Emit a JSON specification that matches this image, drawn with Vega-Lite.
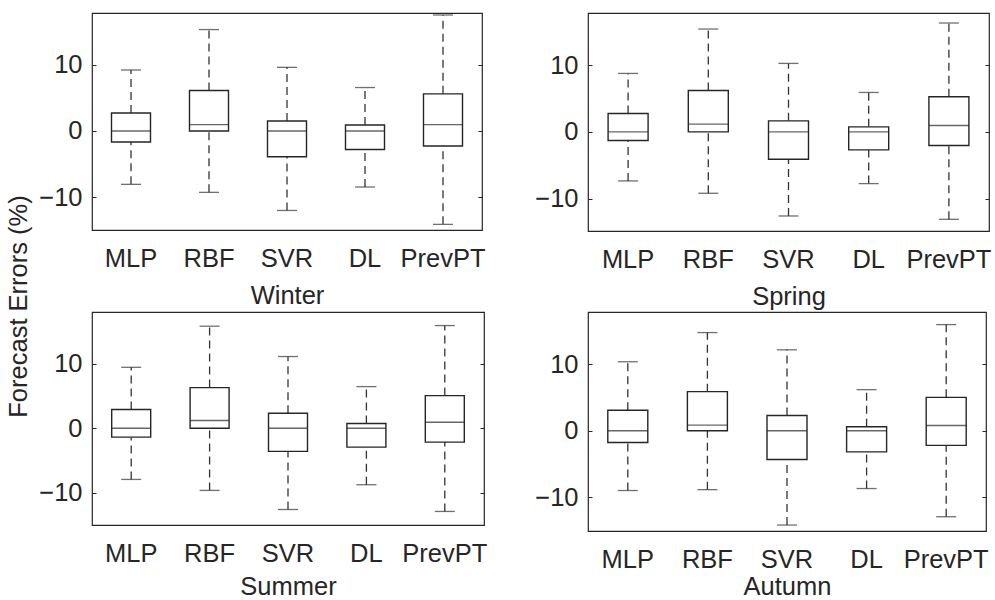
{
  "$schema": "https://vega.github.io/schema/vega-lite/v6.json",
  "background": "white",
  "padding": {"left": 6, "top": 12, "right": 0, "bottom": 0},
  "title": {"text": "Forecast Errors (%)", "orient": "left", "anchor": "middle", "fontSize": 25.5, "font": "Liberation Sans", "fontWeight": "normal", "color": "#262626", "offset": 6},
  "data": {"values": [
    {"season": "Winter", "model": "MLP", "min": -8.06, "q1": -1.66, "median": 0, "q3": 2.7, "max": 9.2},
    {"season": "Winter", "model": "RBF", "min": -9.27, "q1": 0, "median": 0.96, "q3": 6.1, "max": 15.3},
    {"season": "Winter", "model": "SVR", "min": -12.0, "q1": -3.9, "median": 0, "q3": 1.5, "max": 9.6},
    {"season": "Winter", "model": "DL", "min": -8.46, "q1": -2.8, "median": 0, "q3": 0.9, "max": 6.55},
    {"season": "Winter", "model": "PrevPT", "min": -14.1, "q1": -2.27, "median": 0.96, "q3": 5.6, "max": 17.5},
    {"season": "Spring", "model": "MLP", "min": -7.35, "q1": -1.3, "median": 0, "q3": 2.75, "max": 8.75},
    {"season": "Spring", "model": "RBF", "min": -9.2, "q1": 0, "median": 1.15, "q3": 6.2, "max": 15.4},
    {"season": "Spring", "model": "SVR", "min": -12.6, "q1": -4.1, "median": 0, "q3": 1.65, "max": 10.25},
    {"season": "Spring", "model": "DL", "min": -7.75, "q1": -2.7, "median": 0, "q3": 0.75, "max": 5.9},
    {"season": "Spring", "model": "PrevPT", "min": -13.1, "q1": -2.05, "median": 0.95, "q3": 5.25, "max": 16.3},
    {"season": "Summer", "model": "MLP", "min": -7.94, "q1": -1.39, "median": 0, "q3": 2.89, "max": 9.43},
    {"season": "Summer", "model": "RBF", "min": -9.64, "q1": 0, "median": 1.19, "q3": 6.29, "max": 15.8},
    {"season": "Summer", "model": "SVR", "min": -12.6, "q1": -3.6, "median": 0, "q3": 2.32, "max": 11.1},
    {"season": "Summer", "model": "DL", "min": -8.76, "q1": -2.94, "median": 0, "q3": 0.72, "max": 6.44},
    {"season": "Summer", "model": "PrevPT", "min": -12.9, "q1": -2.16, "median": 0.93, "q3": 5.05, "max": 15.9},
    {"season": "Autumn", "model": "MLP", "min": -9.0, "q1": -1.76, "median": 0, "q3": 3.1, "max": 10.4},
    {"season": "Autumn", "model": "RBF", "min": -8.87, "q1": 0, "median": 0.86, "q3": 5.9, "max": 14.8},
    {"season": "Autumn", "model": "SVR", "min": -14.2, "q1": -4.33, "median": 0, "q3": 2.3, "max": 12.2},
    {"season": "Autumn", "model": "DL", "min": -8.7, "q1": -3.17, "median": 0, "q3": 0.6, "max": 6.2},
    {"season": "Autumn", "model": "PrevPT", "min": -12.95, "q1": -2.2, "median": 0.8, "q3": 5.04, "max": 16.0}
  ]},
  "columns": 2,
  "align": "none",
  "spacing": {"column": 46, "row": 0},
  "concat": [
    {
      "width": 390, "height": 217,
      "transform": [{"filter": "datum.season === 'Winter'"}],
      "resolve": {"axis": {"y": "independent"}},
      "encoding": {"x": {"field": "model", "type": "nominal", "sort": ["MLP", "RBF", "SVR", "DL", "PrevPT"], "scale": {"paddingInner": 0, "paddingOuter": 0}, "axis": {"title": "Winter"}}},
      "layer": [
        {"mark": {"type": "rule", "strokeDash": [8, 5], "color": "#333333", "strokeWidth": 1.3}, "encoding": {"y": {"field": "min", "type": "quantitative", "scale": {"domain": [-14.95, 17.8], "nice": false, "zero": false}, "axis": {"title": null, "values": [-10, 0, 10]}}, "y2": {"field": "q1"}}},
        {"mark": {"type": "rule", "strokeDash": [8, 5], "color": "#333333", "strokeWidth": 1.3}, "encoding": {"y": {"field": "q3", "type": "quantitative", "axis": null}, "y2": {"field": "max"}}},
        {"mark": {"type": "tick", "size": 20, "thickness": 1.3, "color": "#333333"}, "encoding": {"y": {"field": "min", "type": "quantitative", "axis": null}}},
        {"mark": {"type": "tick", "size": 20, "thickness": 1.3, "color": "#333333"}, "encoding": {"y": {"field": "max", "type": "quantitative", "axis": null}}},
        {"mark": {"type": "bar", "size": 39, "fill": "white", "stroke": "#262626", "strokeWidth": 1.4}, "encoding": {"y": {"field": "q1", "type": "quantitative", "axis": null}, "y2": {"field": "q3"}}},
        {"mark": {"type": "tick", "size": 39, "thickness": 1.4, "color": "#262626"}, "encoding": {"y": {"field": "median", "type": "quantitative", "axis": {"orient": "right", "labels": false, "title": null, "values": [-10, 0, 10]}}}}
      ]
    },
    {
      "width": 401, "height": 218,
      "transform": [{"filter": "datum.season === 'Spring'"}],
      "resolve": {"axis": {"y": "independent"}},
      "encoding": {"x": {"field": "model", "type": "nominal", "sort": ["MLP", "RBF", "SVR", "DL", "PrevPT"], "scale": {"paddingInner": 0, "paddingOuter": 0}, "axis": {"title": "Spring"}}},
      "layer": [
        {"mark": {"type": "rule", "strokeDash": [8, 5], "color": "#333333", "strokeWidth": 1.3}, "encoding": {"y": {"field": "min", "type": "quantitative", "scale": {"domain": [-14.85, 17.8], "nice": false, "zero": false}, "axis": {"title": null, "values": [-10, 0, 10]}}, "y2": {"field": "q1"}}},
        {"mark": {"type": "rule", "strokeDash": [8, 5], "color": "#333333", "strokeWidth": 1.3}, "encoding": {"y": {"field": "q3", "type": "quantitative", "axis": null}, "y2": {"field": "max"}}},
        {"mark": {"type": "tick", "size": 20, "thickness": 1.3, "color": "#333333"}, "encoding": {"y": {"field": "min", "type": "quantitative", "axis": null}}},
        {"mark": {"type": "tick", "size": 20, "thickness": 1.3, "color": "#333333"}, "encoding": {"y": {"field": "max", "type": "quantitative", "axis": null}}},
        {"mark": {"type": "bar", "size": 40, "fill": "white", "stroke": "#262626", "strokeWidth": 1.4}, "encoding": {"y": {"field": "q1", "type": "quantitative", "axis": null}, "y2": {"field": "q3"}}},
        {"mark": {"type": "tick", "size": 40, "thickness": 1.4, "color": "#262626"}, "encoding": {"y": {"field": "median", "type": "quantitative", "axis": {"orient": "right", "labels": false, "title": null, "values": [-10, 0, 10]}}}}
      ]
    },
    {
      "width": 392, "height": 213,
      "transform": [{"filter": "datum.season === 'Summer'"}],
      "resolve": {"axis": {"y": "independent"}},
      "encoding": {"x": {"field": "model", "type": "nominal", "sort": ["MLP", "RBF", "SVR", "DL", "PrevPT"], "scale": {"paddingInner": 0, "paddingOuter": 0}, "axis": {"title": "Summer", "titlePadding": 8}}},
      "layer": [
        {"mark": {"type": "rule", "strokeDash": [8, 5], "color": "#333333", "strokeWidth": 1.3}, "encoding": {"y": {"field": "min", "type": "quantitative", "scale": {"domain": [-15, 18], "nice": false, "zero": false}, "axis": {"title": null, "values": [-10, 0, 10]}}, "y2": {"field": "q1"}}},
        {"mark": {"type": "rule", "strokeDash": [8, 5], "color": "#333333", "strokeWidth": 1.3}, "encoding": {"y": {"field": "q3", "type": "quantitative", "axis": null}, "y2": {"field": "max"}}},
        {"mark": {"type": "tick", "size": 20, "thickness": 1.3, "color": "#333333"}, "encoding": {"y": {"field": "min", "type": "quantitative", "axis": null}}},
        {"mark": {"type": "tick", "size": 20, "thickness": 1.3, "color": "#333333"}, "encoding": {"y": {"field": "max", "type": "quantitative", "axis": null}}},
        {"mark": {"type": "bar", "size": 39, "fill": "white", "stroke": "#262626", "strokeWidth": 1.4}, "encoding": {"y": {"field": "q1", "type": "quantitative", "axis": null}, "y2": {"field": "q3"}}},
        {"mark": {"type": "tick", "size": 39, "thickness": 1.4, "color": "#262626"}, "encoding": {"y": {"field": "median", "type": "quantitative", "axis": {"orient": "right", "labels": false, "title": null, "values": [-10, 0, 10]}}}}
      ]
    },
    {
      "width": 398, "height": 219,
      "transform": [{"filter": "datum.season === 'Autumn'"}],
      "resolve": {"axis": {"y": "independent"}},
      "encoding": {"x": {"field": "model", "type": "nominal", "sort": ["MLP", "RBF", "SVR", "DL", "PrevPT"], "scale": {"paddingInner": 0, "paddingOuter": 0}, "axis": {"title": "Autumn", "titlePadding": 2}}},
      "layer": [
        {"mark": {"type": "rule", "strokeDash": [8, 5], "color": "#333333", "strokeWidth": 1.3}, "encoding": {"y": {"field": "min", "type": "quantitative", "scale": {"domain": [-15.1, 17.9], "nice": false, "zero": false}, "axis": {"title": null, "values": [-10, 0, 10]}}, "y2": {"field": "q1"}}},
        {"mark": {"type": "rule", "strokeDash": [8, 5], "color": "#333333", "strokeWidth": 1.3}, "encoding": {"y": {"field": "q3", "type": "quantitative", "axis": null}, "y2": {"field": "max"}}},
        {"mark": {"type": "tick", "size": 20, "thickness": 1.3, "color": "#333333"}, "encoding": {"y": {"field": "min", "type": "quantitative", "axis": null}}},
        {"mark": {"type": "tick", "size": 20, "thickness": 1.3, "color": "#333333"}, "encoding": {"y": {"field": "max", "type": "quantitative", "axis": null}}},
        {"mark": {"type": "bar", "size": 40, "fill": "white", "stroke": "#262626", "strokeWidth": 1.4}, "encoding": {"y": {"field": "q1", "type": "quantitative", "axis": null}, "y2": {"field": "q3"}}},
        {"mark": {"type": "tick", "size": 40, "thickness": 1.4, "color": "#262626"}, "encoding": {"y": {"field": "median", "type": "quantitative", "axis": {"orient": "right", "labels": false, "title": null, "values": [-10, 0, 10]}}}}
      ]
    }
  ],
  "config": {
    "font": "Liberation Sans",
    "view": {"stroke": "#262626", "strokeWidth": 1.2},
    "axis": {"domain": false, "grid": false, "labelFont": "Liberation Sans", "titleFont": "Liberation Sans", "labelFontSize": 25.5, "titleFontSize": 25.5, "titleFontWeight": "normal", "labelColor": "#262626", "titleColor": "#262626", "tickColor": "#262626"},
    "axisX": {"ticks": false, "labelAngle": 0, "labelPadding": 16, "titlePadding": 12},
    "axisY": {"tickSize": -4, "labelPadding": 14},
    "tick": {"bandSize": 39}
  }
}
